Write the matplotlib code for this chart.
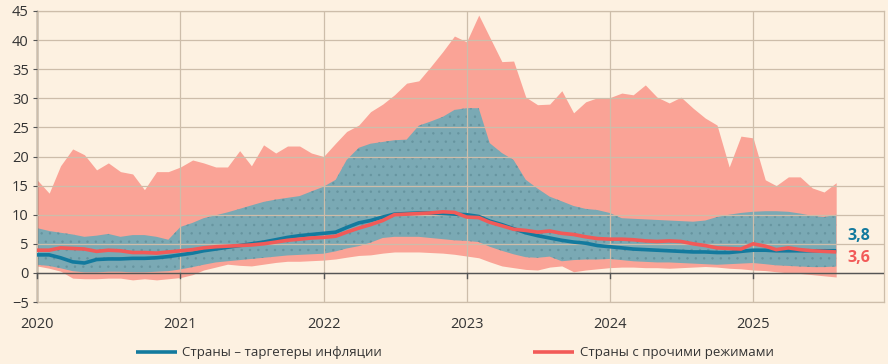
import numpy as np
import pandas as pd
import matplotlib
matplotlib.use("Agg")
import matplotlib.pyplot as plt

plt.rcParams['font.family'] = ['Open Sans', 'DejaVu Sans']
plt.rcParams['hatch.linewidth'] = 0.5

# monthly data, Jan 2020 .. Aug 2025
dates = pd.date_range("2020-01-01", periods=68, freq="MS")

other_max = [16.0, 13.7, 18.4, 21.3, 20.3, 17.7, 18.9, 17.4, 17.0, 14.3, 17.4, 17.4,
             18.2, 19.4, 18.9, 18.2, 18.2, 21.0, 18.4, 22.0, 20.6, 21.8, 21.8, 20.6,
             20.0, 22.3, 24.3, 25.4, 27.7, 29.0, 30.6, 32.6, 33.0, 35.4, 38.0, 40.7,
             39.7, 44.3, 40.5, 36.3, 36.4, 30.2, 28.9, 29.0, 31.3, 27.5, 29.4, 30.1,
             30.1, 30.9, 30.6, 32.3, 30.2, 29.2, 30.2, 28.3, 26.6, 25.4, 18.2, 23.5,
             23.2, 16.0, 15.0, 16.5, 16.5, 14.6, 13.9, 15.5]
other_min = [1.2, 0.8, 0.3, -0.9, -1.0, -1.0, -0.9, -0.9, -1.2, -1.0, -1.2, -1.0,
             -0.8, -0.3, 0.5, 1.0, 1.5, 1.3, 1.2, 1.5, 1.8, 2.0, 2.0, 2.1,
             2.2, 2.4, 2.7, 3.0, 3.1, 3.4, 3.6, 3.6, 3.6, 3.5, 3.4, 3.2,
             2.9, 2.6, 1.9, 1.2, 0.9, 0.6, 0.5, 1.0, 1.2, 0.2, 0.5, 0.7,
             0.9, 1.0, 1.0, 0.9, 0.9, 0.8, 0.9, 1.0, 1.1, 1.0, 0.8, 0.7,
             0.5, 0.4, 0.2, 0.0, -0.1, -0.3, -0.5, -0.7]
target_max = [7.7, 7.2, 6.9, 6.6, 6.2, 6.4, 6.7, 6.2, 6.5, 6.5, 6.2, 5.7,
              7.9, 8.6, 9.4, 9.9, 10.4, 11.0, 11.6, 12.2, 12.6, 12.9, 13.2, 14.0,
              14.8, 16.0, 19.4, 21.5, 22.2, 22.5, 22.8, 22.9, 25.3, 26.0, 26.8, 28.0,
              28.3, 28.3, 22.3, 20.6, 19.4, 16.0, 14.5, 13.1, 12.3, 11.5, 11.0, 10.8,
              10.3, 9.4, 9.3, 9.2, 9.1, 9.0, 8.9, 8.8, 9.0, 9.6, 10.0, 10.3,
              10.5, 10.6, 10.6, 10.5, 10.2, 9.8, 9.6, 10.0]
target_min = [1.4, 1.2, 0.8, 0.3, 0.1, 0.1, 0.2, 0.2, 0.1, 0.1, 0.2, 0.3,
              0.6, 1.0, 1.4, 1.8, 2.0, 2.2, 2.4, 2.6, 2.8, 3.0, 3.1, 3.2,
              3.3, 3.7, 4.2, 4.6, 5.2, 6.0, 6.2, 6.2, 6.2, 6.0, 5.8, 5.6,
              5.5, 5.3, 4.5, 3.8, 3.2, 2.7, 2.6, 2.8, 2.0, 2.2, 2.3, 2.3,
              2.4, 2.2, 2.0, 1.9, 1.8, 1.8, 1.7, 1.6, 1.5, 1.4, 1.5, 1.6,
              1.7, 1.5, 1.3, 1.2, 1.1, 1.0, 1.0, 1.1]
target_med = [3.1, 3.1, 2.6, 1.9, 1.7, 2.3, 2.4, 2.4, 2.5, 2.5, 2.6, 2.8,
              3.1, 3.4, 3.8, 4.1, 4.4, 4.7, 5.0, 5.3, 5.7, 6.1, 6.4, 6.6,
              6.8, 7.0, 7.8, 8.6, 9.0, 9.6, 10.1, 10.2, 10.3, 10.3, 10.2, 10.1,
              10.0, 9.7, 8.9, 8.3, 7.6, 6.9, 6.4, 6.0, 5.6, 5.3, 5.1, 4.7,
              4.5, 4.3, 4.1, 4.0, 3.9, 3.8, 3.7, 3.6, 3.6, 3.5, 3.5, 3.7,
              3.9, 3.9, 3.8, 3.8, 3.8, 3.8, 3.8, 3.8]
other_med = [3.9, 3.9, 4.3, 4.2, 4.1, 3.7, 3.9, 3.8, 3.5, 3.5, 3.4, 3.6,
             3.8, 4.0, 4.3, 4.5, 4.6, 4.7, 4.8, 5.0, 5.3, 5.6, 5.8, 6.0,
             6.1, 6.3, 7.0, 7.7, 8.3, 9.0, 10.0, 10.1, 10.2, 10.3, 10.5, 10.4,
             9.6, 9.5, 8.7, 8.1, 7.5, 7.3, 7.0, 7.2, 6.8, 6.6, 6.2, 5.9,
             5.8, 5.8, 5.7, 5.5, 5.4, 5.5, 5.4, 5.0, 4.7, 4.3, 4.2, 4.1,
             5.0, 4.6, 4.0, 4.3, 4.0, 3.8, 3.7, 3.6]

label_target = "Страны – таргетеры инфляции"
label_other = "Страны с прочими режимами"

bg = "#FDF1E1"
salmon = "#FAA396"
teal_band = "#7AA9B4"
teal_line = "#137A9E"
red_line = "#F25A58"
grid_c = "#CDBDAA"
text_c = "#333333"

fig = plt.figure(figsize=(8.88, 3.64), dpi=100, facecolor=bg)
ax = fig.add_axes([0.0417, 0.1703, 0.9538, 0.7995])
ax.set_facecolor(bg)

ax.fill_between(dates, other_min, other_max, color=salmon, lw=0, zorder=1)
ax.fill_between(dates, target_min, target_max, facecolor=teal_band,
                edgecolor="#66949F", hatch="..", lw=0, zorder=2)

ax.plot(dates, target_med, color=teal_line, lw=2.6, zorder=4,
        solid_capstyle="butt", label=label_target)
ax.plot(dates, other_med, color=red_line, lw=2.6, zorder=5,
        solid_capstyle="butt", label=label_other)

ax.annotate(f"{target_med[-1]:.1f}".replace(".", ","), xy=(dates[-1], target_med[-1]),
            xytext=(8, 11), textcoords="offset points", ha="left", va="center",
            color=teal_line, fontsize=11.5, fontweight="bold")
ax.annotate(f"{other_med[-1]:.1f}".replace(".", ","), xy=(dates[-1], other_med[-1]),
            xytext=(8, -4), textcoords="offset points", ha="left", va="center",
            color=red_line, fontsize=11.5, fontweight="bold")

ax.set_ylim(-5, 45)
ax.set_yticks(np.arange(-5, 50, 5))
ax.set_xlim(pd.Timestamp("2020-01-01"), pd.Timestamp("2025-12-01"))
years = pd.date_range("2020-01-01", "2025-01-01", freq="YS")
ax.set_xticks(years)
ax.set_xticklabels([str(y.year) for y in years])

ax.grid(True, color=grid_c, lw=0.9, zorder=3)
ax.set_axisbelow(False)
ax.axhline(0, color="#555555", lw=1.0, zorder=3)
for y in years:
    ax.plot([y, y], [0, -0.8], color="#555555", lw=1.0, zorder=3, clip_on=False)

for s in ["top", "right", "bottom"]:
    ax.spines[s].set_color(grid_c)
    ax.spines[s].set_linewidth(0.9)
ax.spines["left"].set_color("#333333")
ax.spines["left"].set_linewidth(1.0)

ax.tick_params(axis="x", length=0, pad=11, labelsize=10.5, labelcolor=text_c)
ax.tick_params(axis="y", length=3, width=0.8, color="#555555", pad=3,
               labelsize=10.5, labelcolor=text_c)

fig.legend(loc="lower center", bbox_to_anchor=(0.512, -0.02), ncol=2, frameon=False,
           fontsize=9.5, handlelength=3.1, handletextpad=0.4, columnspacing=11.5,
           labelcolor=text_c)

fig.savefig("out.png", dpi=100, facecolor=bg)
